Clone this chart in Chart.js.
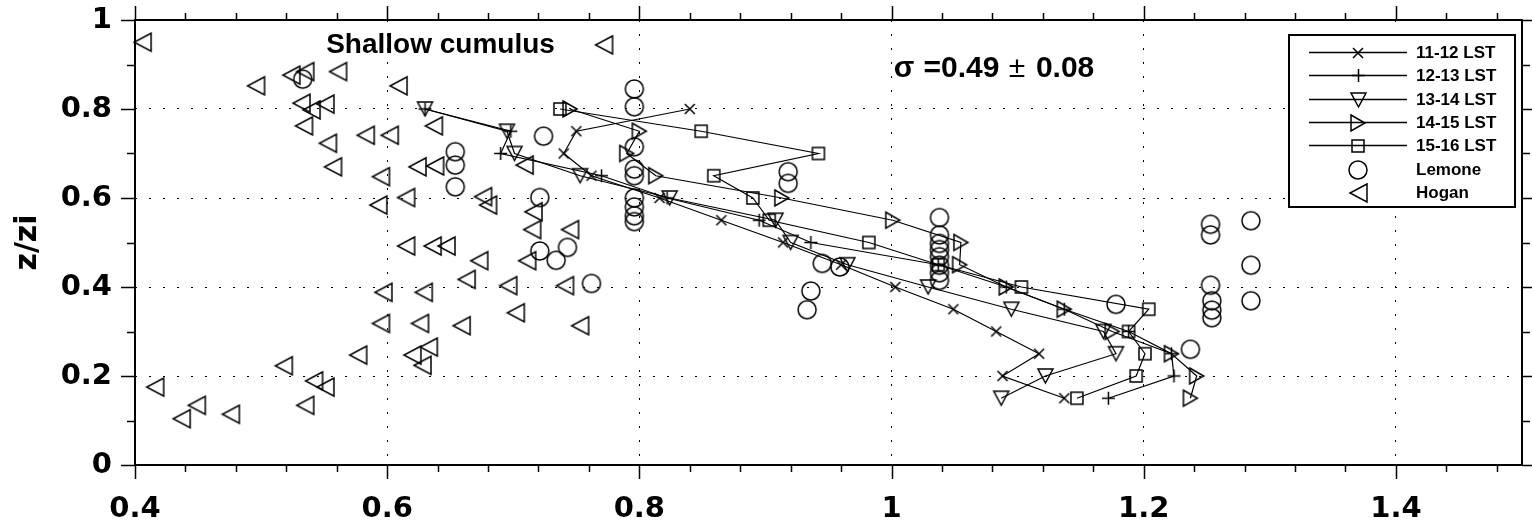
<!DOCTYPE html>
<html>
<head>
<meta charset="utf-8">
<script src="https://cdn.jsdelivr.net/npm/chart.js@4.4.1/dist/chart.umd.min.js"></script>
<style>
  html, body { margin: 0; padding: 0; background: #fff; }
  canvas { display: block; }
</style>
</head>
<body>
<canvas id="sigmaChart" width="1532" height="529"></canvas>
<script>
// heights of the profile levels (z/zi)
const zLevels = [0.80, 0.75, 0.70, 0.65, 0.60, 0.55, 0.50, 0.45, 0.40, 0.35, 0.30, 0.25, 0.20, 0.15];

// hourly profiles, one value per level
const lst1112 = [0.840, 0.750, 0.740, 0.762, 0.816, 0.865, 0.914, 0.960, 1.003, 1.049, 1.083, 1.117, 1.088, 1.137];
const lst1213 = [0.630, 0.698, 0.690, 0.770, 0.822, 0.895, 0.936, 1.037, 1.091, 1.137, 1.188, 1.222, 1.224, 1.172];
const lst1314 = [0.630, 0.695, 0.701, 0.753, 0.824, 0.908, 0.920, 0.965, 1.029, 1.095, 1.168, 1.178, 1.122, 1.087];
const lst1415 = [0.745, 0.800, 0.790, 0.813, 0.913, 1.001, 1.055, 1.054, 1.091, 1.137, 1.175, 1.222, 1.242, 1.237];
const lst1516 = [0.737, 0.849, 0.942, 0.859, 0.890, 0.903, 0.982, 1.037, 1.103, 1.204, 1.188, 1.201, 1.194, 1.147];

// Lemone observations
const lemoneX = [0.533, 0.654, 0.654, 0.654, 0.724, 0.721, 0.721, 0.734, 0.743, 0.762,
  0.796, 0.796, 0.796, 0.796, 0.796, 0.796, 0.796, 0.796, 0.796, 0.918, 0.918,
  0.936, 0.933, 0.945, 0.959, 1.038, 1.038, 1.038, 1.038, 1.038, 1.038, 1.038, 1.038,
  1.178, 1.237, 1.253, 1.253, 1.285, 1.285, 1.253, 1.254, 1.254, 1.254, 1.285];
const lemoneZ = [0.867, 0.704, 0.674, 0.625, 0.739, 0.601, 0.481, 0.460, 0.489, 0.408,
  0.845, 0.805, 0.715, 0.665, 0.650, 0.600, 0.580, 0.560, 0.547, 0.659, 0.633,
  0.391, 0.349, 0.453, 0.445, 0.556, 0.517, 0.498, 0.484, 0.468, 0.449, 0.432, 0.415,
  0.361, 0.260, 0.541, 0.517, 0.549, 0.449, 0.404, 0.369, 0.348, 0.331, 0.369];

// Hogan observations
const hoganX = [0.406, 0.496, 0.524, 0.535, 0.561, 0.609, 0.532, 0.540, 0.551, 0.534,
  0.553, 0.557, 0.583, 0.602, 0.637, 0.595, 0.593, 0.615, 0.624, 0.638,
  0.676, 0.680, 0.716, 0.715, 0.745, 0.615, 0.636, 0.647, 0.673, 0.711,
  0.663, 0.597, 0.629, 0.696, 0.741, 0.702, 0.595, 0.626, 0.659, 0.753,
  0.633, 0.620, 0.628, 0.416, 0.437, 0.449, 0.476, 0.518, 0.535, 0.542,
  0.551, 0.577, 0.772, 0.709];
const hoganZ = [0.950, 0.852, 0.876, 0.884, 0.884, 0.852, 0.813, 0.798, 0.811, 0.762,
  0.723, 0.670, 0.741, 0.741, 0.762, 0.648, 0.584, 0.601, 0.670, 0.672,
  0.603, 0.584, 0.569, 0.529, 0.529, 0.492, 0.492, 0.492, 0.459, 0.459,
  0.417, 0.388, 0.388, 0.403, 0.403, 0.342, 0.318, 0.318, 0.313, 0.313,
  0.265, 0.247, 0.224, 0.175, 0.104, 0.134, 0.114, 0.223, 0.134, 0.189,
  0.175, 0.247, 0.944, 0.674];

const xTicks = [0.4, 0.6, 0.8, 1.0, 1.2, 1.4];
const xTickLabels = ['0.4', '0.6', '0.8', '1', '1.2', '1.4'];
const yTicks = [0, 0.2, 0.4, 0.6, 0.8, 1.0];
const yTickLabels = ['0', '0.2', '0.4', '0.6', '0.8', '1'];

const FONT = '"Liberation Sans", Arial, Helvetica, sans-serif';
const AXFONT = '"DejaVu Sans", "Liberation Sans", Arial, sans-serif';

// open marker glyphs drawn once into small canvases
function makeMarker(kind, w, h) {
  const pad = 2;
  const c = document.createElement('canvas');
  c.width = Math.ceil(w + 2 * pad);
  c.height = Math.ceil(h + 2 * pad);
  const g = c.getContext('2d');
  g.strokeStyle = '#000';
  g.lineWidth = 1.5;
  const cx = c.width / 2, cy = c.height / 2, hw = w / 2, hh = h / 2;
  g.beginPath();
  if (kind === 'x') {
    g.moveTo(cx - hw, cy - hh); g.lineTo(cx + hw, cy + hh);
    g.moveTo(cx + hw, cy - hh); g.lineTo(cx - hw, cy + hh);
  } else if (kind === '+') {
    g.moveTo(cx - hw, cy); g.lineTo(cx + hw, cy);
    g.moveTo(cx, cy - hh); g.lineTo(cx, cy + hh);
  } else if (kind === 'v') {
    g.moveTo(cx - hw, cy - hh); g.lineTo(cx + hw, cy - hh); g.lineTo(cx, cy + hh); g.closePath();
  } else if (kind === '>') {
    g.moveTo(cx - hw, cy - hh); g.lineTo(cx + hw, cy); g.lineTo(cx - hw, cy + hh); g.closePath();
  } else if (kind === '<') {
    g.moveTo(cx + hw, cy - hh); g.lineTo(cx - hw, cy); g.lineTo(cx + hw, cy + hh); g.closePath();
  } else if (kind === 's') {
    g.rect(cx - hw, cy - hh, w, h);
  } else if (kind === 'o') {
    g.arc(cx, cy, hw, 0, Math.PI * 2);
  }
  g.stroke();
  return c;
}

const mkCross = makeMarker('x', 10, 10);
const mkPlus = makeMarker('+', 13, 13);
const mkDown = makeMarker('v', 15, 14);
const mkRight = makeMarker('>', 14, 16);
const mkSquare = makeMarker('s', 12, 12);
const mkCircle = makeMarker('o', 18, 18);
const mkLeft = makeMarker('<', 17, 18);

function profile(label, xs, marker) {
  return {
    label: label,
    data: zLevels.map((z, i) => ({ x: xs[i], y: z })),
    showLine: true,
    borderColor: '#000',
    borderWidth: 1.2,
    pointStyle: marker,
    pointRadius: 8,
    clip: false
  };
}

function scatterSet(label, xs, zs, marker) {
  return {
    label: label,
    data: xs.map((v, i) => ({ x: v, y: zs[i] })),
    showLine: false,
    pointStyle: marker,
    pointRadius: 9,
    clip: false
  };
}

const datasets = [
  scatterSet('Hogan', hoganX, hoganZ, mkLeft),
  scatterSet('Lemone', lemoneX, lemoneZ, mkCircle),
  profile('11-12 LST', lst1112, mkCross),
  profile('12-13 LST', lst1213, mkPlus),
  profile('13-14 LST', lst1314, mkDown),
  profile('14-15 LST', lst1415, mkRight),
  profile('15-16 LST', lst1516, mkSquare)
];

// box with outward tick marks on all four sides
const framePlugin = {
  id: 'frame',
  afterDatasetsDraw(chart) {
    const { ctx, chartArea: a, scales } = chart;
    const sx = scales.x, sy = scales.y;
    ctx.save();
    ctx.strokeStyle = '#000';
    ctx.lineWidth = 1.5;
    ctx.beginPath();
    for (let k = 10; k <= 37; k++) {
      const px = Math.round(sx.getPixelForValue(k * 0.04)) + 0.5;
      const len = k % 5 === 0 ? 14 : 7;
      ctx.moveTo(px, a.bottom); ctx.lineTo(px, a.bottom + len);
      ctx.moveTo(px, a.top); ctx.lineTo(px, a.top - len);
    }
    for (let k = 0; k <= 10; k++) {
      const py = Math.round(sy.getPixelForValue(k * 0.1)) + 0.5;
      const len = k % 2 === 0 ? 14 : 8;
      ctx.moveTo(a.left, py); ctx.lineTo(a.left - len, py);
      ctx.moveTo(a.right, py); ctx.lineTo(a.right + len, py);
    }
    ctx.stroke();
    ctx.lineWidth = 2;
    ctx.strokeRect(a.left, a.top, a.right - a.left, a.bottom - a.top);
    ctx.restore();
  }
};

// case label, spread note and the legend box
const notesPlugin = {
  id: 'notes',
  afterDraw(chart) {
    const { ctx, scales } = chart;
    const sx = scales.x, sy = scales.y;
    ctx.save();
    ctx.fillStyle = '#000';
    ctx.textBaseline = 'alphabetic';
    ctx.textAlign = 'left';
    ctx.font = 'bold 28px ' + FONT;
    ctx.fillText('Shallow cumulus', sx.getPixelForValue(0.5516), sy.getPixelForValue(0.926));

    const ny = sy.getPixelForValue(0.872);
    ctx.font = 'bold 30px ' + FONT;
    ctx.fillText('σ', sx.getPixelForValue(1.0017), ny);
    ctx.fillText('=0.49', sx.getPixelForValue(1.0254), ny);
    ctx.fillText('0.08', sx.getPixelForValue(1.1145), ny);
    ctx.font = '30px ' + FONT;
    ctx.fillText('±', sx.getPixelForValue(1.0930), ny);

    const bx = 1289, by = 35, bw = 226, bh = 172;
    ctx.fillStyle = '#fff';
    ctx.fillRect(bx, by, bw, bh);
    ctx.strokeStyle = '#000';
    ctx.lineWidth = 2;
    ctx.strokeRect(bx, by, bw, bh);

    const order = [2, 3, 4, 5, 6, 1, 0];
    ctx.font = 'bold 17px ' + FONT;
    ctx.textBaseline = 'middle';
    ctx.fillStyle = '#000';
    order.forEach((di, row) => {
      const ds = chart.data.datasets[di];
      const ry = Math.round(52 + row * 23.3) + 0.5;
      if (ds.showLine) {
        ctx.lineWidth = 1.3;
        ctx.beginPath();
        ctx.moveTo(1309, ry); ctx.lineTo(1407, ry);
        ctx.stroke();
      }
      const m = ds.pointStyle;
      ctx.drawImage(m, Math.round(1358 - m.width / 2), Math.round(ry - m.height / 2));
      ctx.fillText(ds.label, 1416, ry + 1);
    });
    ctx.restore();
  }
};

const ctx = document.getElementById('sigmaChart').getContext('2d');

new Chart(ctx, {
  type: 'scatter',
  data: { datasets: datasets },
  options: {
    responsive: false,
    animation: false,
    events: [],
    layout: { padding: { left: 0, right: 3, top: 0, bottom: 0 } },
    plugins: {
      legend: { display: false },
      tooltip: { enabled: false }
    },
    scales: {
      x: {
        type: 'linear',
        min: 0.4,
        max: 1.5,
        afterBuildTicks: scale => { scale.ticks = xTicks.map(v => ({ value: v })); },
        afterFit: scale => { scale.height = 64; },
        grid: {
          drawTicks: false,
          lineWidth: 1,
          color: c => (c.tick && c.tick.value > 0.41 && c.tick.value < 1.49) ? '#000' : 'rgba(0,0,0,0)'
        },
        border: { display: false, dash: [2, 12] },
        ticks: {
          autoSkip: false,
          maxRotation: 0,
          padding: 27,
          color: '#000',
          font: { family: AXFONT, size: 29, weight: 'bold' },
          callback: (v, i) => xTickLabels[i]
        }
      },
      y: {
        type: 'linear',
        min: 0,
        max: 1,
        afterBuildTicks: scale => { scale.ticks = yTicks.map(v => ({ value: v })); },
        afterFit: scale => { scale.width = 135; },
        grid: {
          drawTicks: true,
          tickLength: 23,
          tickColor: 'rgba(0,0,0,0)',
          lineWidth: 1,
          color: c => (c.tick && c.tick.value > 0.01 && c.tick.value < 0.99) ? '#000' : 'rgba(0,0,0,0)'
        },
        border: { display: false, dash: [2, 12] },
        title: {
          display: true,
          text: 'z/zi',
          color: '#000',
          font: { family: AXFONT, size: 30, weight: 'bold' },
          padding: { top: 10, bottom: 0 }
        },
        ticks: {
          autoSkip: false,
          padding: 0,
          color: '#000',
          font: { family: AXFONT, size: 29, weight: 'bold', lineHeight: '40px' },
          callback: (v, i) => yTickLabels[i]
        }
      }
    }
  },
  plugins: [framePlugin, notesPlugin]
});
</script>
</body>
</html>
